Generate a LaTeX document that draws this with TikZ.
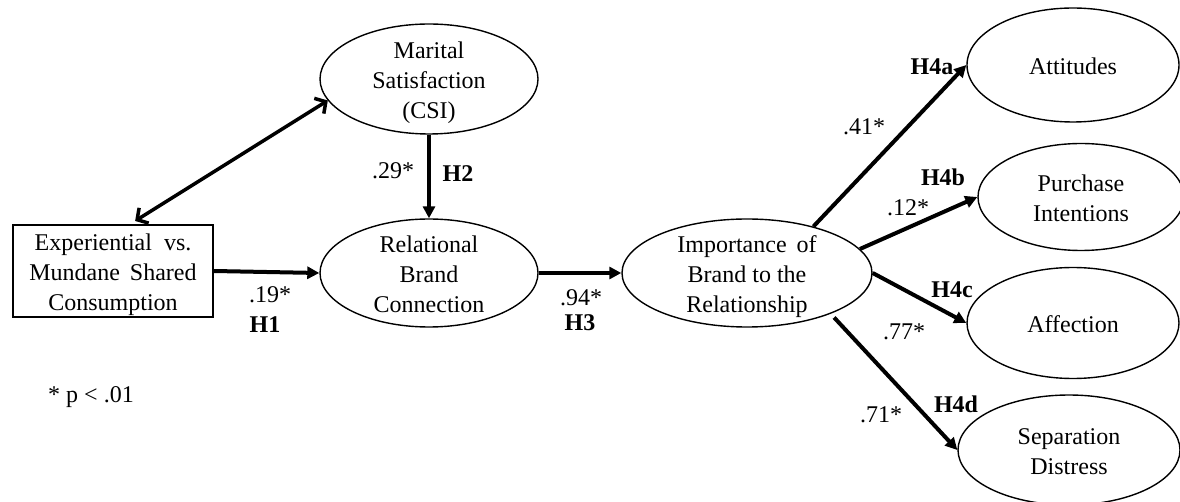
\documentclass[tikz,border=0pt]{standalone}
\usepackage{fontspec}
\setmainfont{Liberation Serif}
\usetikzlibrary{arrows.meta,shapes.geometric}
\newcommand\ctext[1]{\makebox[0pt]{\raisebox{-10pt}[0pt][0pt]{\begin{tabular}{@{}c@{}}#1\end{tabular}}}}
\begin{document}
\begin{tikzpicture}[x=1pt,y=-1pt, font=\fontsize{24}{30}\selectfont,
  ell/.style={ellipse, draw, line width=1.4pt, inner sep=0pt},
  boxnode/.style={draw, line width=1.7pt, inner sep=0pt},
  arr/.style={line width=4pt, -{Triangle[length=12pt,width=12pt]}},
  dbl/.style={line width=3.5pt, {Straight Barb[length=8pt,width=18pt]}-{Straight Barb[length=8pt,width=18pt]}},
  lab/.style={inner sep=0pt},
  hyp/.style={inner sep=0pt, font=\fontsize{24}{30}\selectfont\bfseries}]
\useasboundingbox (0,0) rectangle (1180,502);
\node[boxnode, minimum width=200pt, minimum height=92pt] (exp) at (113,271) {\ctext{Experiential\ \ vs.\\Mundane\ \,Shared\\Consumption}};
\node[ell, minimum width=218pt, minimum height=110pt] (mar) at (429,79) {\ctext{Marital\\Satisfaction\\(CSI)}};
\node[ell, minimum width=218pt, minimum height=108pt] (rel) at (429,273) {\ctext{Relational\\Brand\\Connection}};
\node[ell, minimum width=250pt, minimum height=108pt] (imp) at (747,273) {\ctext{Importance\ \,of\\Brand\ to\ the\\Relationship}};
\node[ell, minimum width=212pt, minimum height=114pt] (att) at (1073,65) {\ctext{Attitudes}};
\node[ell, minimum width=206pt, minimum height=107pt] (pur) at (1081,197) {\ctext{Purchase\\Intentions}};
\node[ell, minimum width=212pt, minimum height=111pt] (aff) at (1073,323) {\ctext{Affection}};
\node[ell, minimum width=222pt, minimum height=110pt] (sep) at (1069,450) {\ctext{Separation\\Distress}};

\draw[arr] (exp.east) -- (rel.west);
\draw[arr] (mar.south) -- (rel.north);
\draw[arr] (rel.east) -- (imp.west);
\draw[dbl, shorten <=6pt] (exp.70) -- (mar.-168);
\draw[arr] (imp.35) -- (att.west);
\draw[arr] (imp.12) -- (pur.west);
\draw[arr] (imp.east) -- (aff.west);
\draw[arr, shorten <=5pt] (imp.-26) -- (sep.west);

\node[lab] (l29) at (393,171) {.29*};
\node[hyp] (h2) at (458,174) {H2};
\node[lab] (l19) at (270,295) {.19*};
\node[hyp] (h1) at (265,325) {H1};
\node[lab] (l94) at (581,298) {.94*};
\node[hyp] (h3) at (580,323) {H3};
\node[lab] (l41) at (864,127) {.41*};
\node[hyp] (h4a) at (932,67) {H4a};
\node[hyp] (h4b) at (943,177) {H4b};
\node[lab] (l12) at (908,208) {.12*};
\node[hyp] (h4c) at (952,290) {H4c};
\node[lab] (l77) at (904,332) {.77*};
\node[hyp] (h4d) at (956,404) {H4d};
\node[lab] (l71) at (881,415) {.71*};
\node[lab] (note) at (91,397) {* p < .01};
\end{tikzpicture}
\end{document}
